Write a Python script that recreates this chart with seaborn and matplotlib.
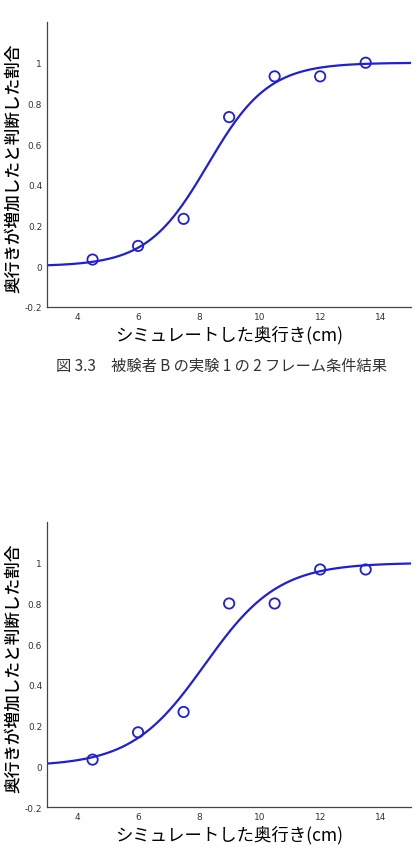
import numpy as np
import pandas as pd
import matplotlib
matplotlib.use("Agg")
import matplotlib.pyplot as plt
import seaborn as sns

sns.set_style("white")
plt.rcParams['font.family'] = ['Noto Sans CJK JP', 'DejaVu Sans']

# シミュレートした奥行き (cm)
depth = [4.5, 6.0, 7.5, 9.0, 10.5, 12.0, 13.5]

# 判断した割合 (上: 2フレーム条件, 下: もう一方の条件)
ratio_top = [0.033, 0.100, 0.233, 0.733, 0.933, 0.933, 1.000]
ratio_bottom = [0.033, 0.167, 0.267, 0.800, 0.800, 0.967, 0.967]

# ロジスティック曲線のパラメータ: 中点, 傾き
fit_top = (8.3, 1.0)
fit_bottom = (8.2, 1.21)

x_ticks = [4, 6, 8, 10, 12, 14]
y_ticks = [-0.2, 0, 0.2, 0.4, 0.6, 0.8, 1]
y_tick_labels = ['-0.2', '0', '0.2', '0.4', '0.6', '0.8', '1']

ylabel = "奥行きが増加したと判断した割合"
xlabel = "シミュレートした奥行き(cm)"
caption = "図 3.3　被験者 B の実験 1 の 2 フレーム条件結果"

BLUE = "#1f1fd6"


def draw_panel(ax, ratio, fit):
    xs = np.linspace(3, 15, 300)
    mid, slope = fit
    curve = pd.DataFrame({'x': xs, 'y': 1 / (1 + np.exp(-(xs - mid) / slope))})
    pts = pd.DataFrame({'x': depth, 'y': ratio})

    sns.lineplot(data=curve, x='x', y='y', ax=ax, color=BLUE, linewidth=1.6)
    sns.scatterplot(data=pts, x='x', y='y', ax=ax, marker='o', s=55,
                    facecolor='none', edgecolor=BLUE, linewidth=1.3, zorder=3)

    ax.set_xlim(3, 15)
    ax.set_ylim(-0.2, 1.2)
    ax.set_xticks(x_ticks)
    ax.set_xticklabels([str(t) for t in x_ticks])
    ax.set_yticks(y_ticks)
    ax.set_yticklabels(y_tick_labels)
    ax.tick_params(axis='both', direction='in', length=3, width=0.8,
                   labelsize=6.5, labelcolor='#333333', color='#444444')
    for lab in ax.get_xticklabels() + ax.get_yticklabels():
        lab.set_family('DejaVu Sans')
    for side in ['top', 'right']:
        ax.spines[side].set_visible(False)
    for side in ['left', 'bottom']:
        ax.spines[side].set_color('#444444')
        ax.spines[side].set_linewidth(0.9)
    ax.set_xlabel(xlabel, fontsize=12.5, labelpad=3, color='black')
    ax.set_ylabel(ylabel, fontsize=12, color='black', fontweight='medium')
    ax.yaxis.set_label_coords(-0.068, 0.49)


fig = plt.figure(figsize=(4.2, 8.62), dpi=100)
ax1 = fig.add_axes([0.112, 0.6427, 0.867, 0.3306])
ax2 = fig.add_axes([0.112, 0.0626, 0.867, 0.3306])

draw_panel(ax1, ratio_top, fit_top)
draw_panel(ax2, ratio_bottom, fit_bottom)

fig.text(0.527, 1 - 366 / 862, caption, ha='center', va='center',
         fontsize=11, color='#333333')

fig.savefig("out.png", dpi=100)
